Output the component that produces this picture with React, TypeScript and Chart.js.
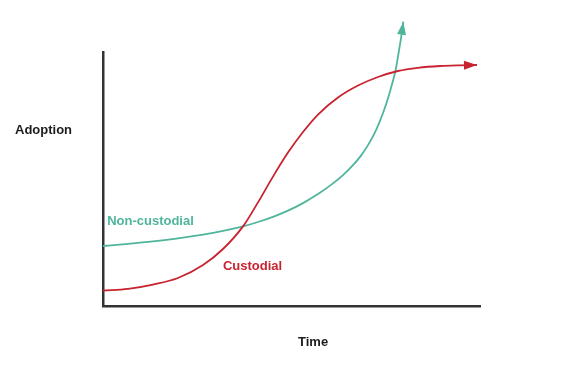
import React, { useEffect, useRef } from "react";
import { Chart, registerables } from "chart.js";

Chart.register(...registerables);

// Custodial (red) curve, x = time (0-100), y = adoption (0-100)
const custodialX = [0, 6.63, 13.26, 19.89, 26.53, 31.83, 37.14, 41.11, 45.09, 49.07, 53.05, 57.03, 62.33, 67.64, 72.94, 78.25, 83.55, 89.39, 94.69, 99.2];
const custodialY = [6.1, 6.77, 8.46, 11.02, 16.14, 22.44, 31.34, 40.79, 50.94, 60.39, 68.5, 75.39, 82.09, 86.81, 90.16, 92.52, 93.78, 94.49, 94.76, 94.88];

// Non-custodial (teal) curve
const nonCustodialX = [0, 6.63, 13.26, 19.89, 26.53, 31.83, 37.14, 41.11, 45.09, 49.07, 53.05, 57.03, 61.01, 63.66, 66.31, 68.44, 70.29, 71.88, 73.21, 74.54, 75.6, 76.66, 77.59, 78.38, 79.1, 79.66];
const nonCustodialY = [23.62, 24.49, 25.47, 26.65, 28.11, 29.57, 31.34, 33.07, 35.12, 37.56, 40.51, 44.06, 48.27, 51.5, 55.43, 59.21, 63.35, 67.6, 71.93, 77.05, 81.77, 87.28, 92.72, 99.41, 105.91, 111.93];

const seriesLabels = ["Custodial", "Non-custodial"];
const axisTitleY = "Adoption";
const axisTitleX = "Time";

const RED = "#c8232f";
const TEAL = "#4fb59c";
const TEXT = "#1c1c1c";
const AXIS = "#333333";
const FONT = "bold 13px 'Liberation Sans', Arial, sans-serif";

const arrowPlugin = {
  id: "arrowsAndLabels",
  afterDatasetsDraw(chart: any) {
    const ctx = chart.ctx;
    chart.data.datasets.forEach((ds: any, i: number) => {
      const meta = chart.getDatasetMeta(i);
      const pts = meta.data;
      const n = pts.length;
      if (n < 2) return;
      const b = pts[n - 1];
      const a = pts[n - 2];
      const ang = Math.atan2(b.y - a.y, b.x - a.x);
      const len = 13;
      const hw = 4.5;
      ctx.save();
      ctx.translate(b.x, b.y);
      ctx.rotate(ang);
      ctx.beginPath();
      ctx.moveTo(0, 0);
      ctx.lineTo(-len, -hw);
      ctx.lineTo(-len, hw);
      ctx.closePath();
      ctx.fillStyle = ds.borderColor;
      ctx.fill();
      ctx.restore();
    });

    const xs = chart.scales.x;
    const ys = chart.scales.y;
    ctx.save();
    ctx.font = FONT;
    ctx.textBaseline = "middle";
    ctx.textAlign = "left";
    // series labels placed in data coordinates
    ctx.fillStyle = TEAL;
    ctx.fillText(seriesLabels[1], xs.getPixelForValue(1.1), ys.getPixelForValue(33.2));
    ctx.fillStyle = RED;
    ctx.fillText(seriesLabels[0], xs.getPixelForValue(31.8), ys.getPixelForValue(15.5));
    // axis titles
    ctx.fillStyle = TEXT;
    ctx.fillText(axisTitleY, 15, 130.5);
    ctx.fillText(axisTitleX, 298, 342);
    ctx.restore();
  },
};

export default function App() {
  const ref = useRef<HTMLCanvasElement | null>(null);

  useEffect(() => {
    if (!ref.current) return;
    const chart = new Chart(ref.current, {
      type: "line",
      data: {
        datasets: [
          {
            label: seriesLabels[0],
            data: custodialX.map((x, i) => ({ x, y: custodialY[i] })),
            borderColor: RED,
            backgroundColor: RED,
            borderWidth: 1.8,
            pointRadius: 0,
            cubicInterpolationMode: "monotone",
            capBezierPoints: false,
            clip: false,
          },
          {
            label: seriesLabels[1],
            data: nonCustodialX.map((x, i) => ({ x, y: nonCustodialY[i] })),
            borderColor: TEAL,
            backgroundColor: TEAL,
            borderWidth: 1.8,
            pointRadius: 0,
            cubicInterpolationMode: "monotone",
            capBezierPoints: false,
            clip: false,
          },
        ],
      },
      options: {
        responsive: false,
        animation: false,
        layout: { padding: { left: 95, right: 105, top: 52, bottom: 70 } },
        plugins: { legend: { display: false }, tooltip: { enabled: false } },
        scales: {
          x: {
            type: "linear",
            min: 0,
            max: 100,
            ticks: { display: false },
            grid: { display: false },
            border: { display: true, color: AXIS, width: 2.5 },
          },
          y: {
            type: "linear",
            min: 0,
            max: 100,
            ticks: { display: false },
            grid: { display: false },
            border: { display: true, color: AXIS, width: 2.5 },
          },
        },
      },
      plugins: [arrowPlugin],
    } as any);
    return () => chart.destroy();
  }, []);

  return (
    <div style={{ position: "absolute", left: 0, top: 0, width: 585, height: 384, background: "#fff" }}>
      <canvas ref={ref} width={585} height={384} />
    </div>
  );
}
